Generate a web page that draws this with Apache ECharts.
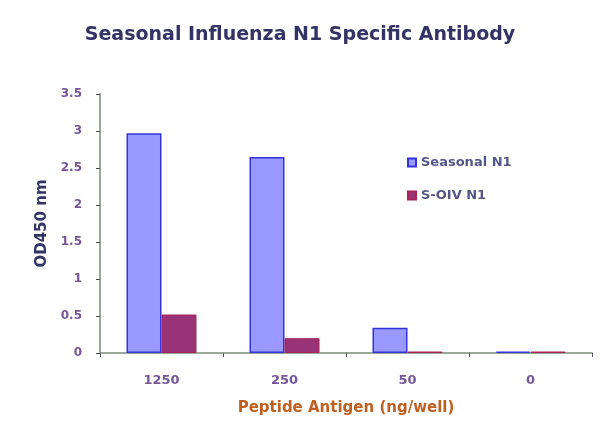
<!DOCTYPE html>
<html><head><meta charset="utf-8">
<script src="https://cdn.jsdelivr.net/npm/echarts@6/dist/echarts.min.js"></script>
<style>html,body{margin:0;padding:0;background:#fff}#c{width:600px;height:447px}</style>
</head><body><div id="c"></div>
<script>
const categories = ['1250', '250', '50', '0'];
const seasonalN1 = [2.97, 2.65, 0.34, 0.02];
const soivN1 = [0.52, 0.2, 0.02, 0.02];
const seriesNames = ['Seasonal N1', 'S-OIV N1'];

const chart = echarts.init(document.getElementById('c'));
const font = 'DejaVu Sans, Verdana, sans-serif';
chart.setOption({
  animation: false,
  title: {
    text: 'Seasonal Influenza N1 Specific Antibody',
    left: 'center', top: 21,
    textStyle: { fontFamily: font, fontSize: 19, fontWeight: 'bold', color: '#333366' }
  },
  legend: {
    orient: 'vertical', left: 402, top: 151, itemGap: 20,
    itemWidth: 8, itemHeight: 8, icon: 'rect',
    textStyle: { fontFamily: font, fontSize: 13, fontWeight: 'bold', color: '#555588' },
    data: seriesNames
  },
  grid: { left: 100, right: 8, top: 94, bottom: 94, containLabel: false },
  xAxis: {
    type: 'category', data: categories,
    name: 'Peptide Antigen (ng/well)', nameLocation: 'middle', nameGap: 48,
    nameTextStyle: { fontFamily: font, fontSize: 15, fontWeight: 'bold', color: '#c06020' },
    axisLine: { lineStyle: { color: '#99aa99', width: 2 } },
    axisTick: { show: true, length: 4, lineStyle: { color: '#556' } },
    axisLabel: { fontFamily: font, fontSize: 13, fontWeight: 'bold', color: '#775599', margin: 21 }
  },
  yAxis: {
    type: 'value', min: 0, max: 3.5, interval: 0.5,
    name: 'OD450 nm', nameLocation: 'middle', nameGap: 39, nameRotate: 90,
    nameTextStyle: { fontFamily: font, fontSize: 15, fontWeight: 'bold', color: '#333366' },
    axisLine: { show: true, lineStyle: { color: '#99aa99', width: 2 } },
    axisTick: { show: true, length: 4, inside: false, lineStyle: { color: '#445' } },
    splitLine: { show: false },
    axisLabel: { fontFamily: font, fontSize: 12, fontWeight: 'bold', color: '#775599', margin: 18 }
  },
  series: [
    {
      name: seriesNames[0], type: 'bar', data: seasonalN1,
      barWidth: 35, barGap: '0%',
      itemStyle: { color: '#9999ff', borderColor: '#3333dd', borderWidth: 1.5 }
    },
    {
      name: seriesNames[1], type: 'bar', data: soivN1,
      barWidth: 35,
      itemStyle: { color: '#993377', borderColor: '#aa2255', borderWidth: 1 }
    }
  ]
});
</script></body></html>
